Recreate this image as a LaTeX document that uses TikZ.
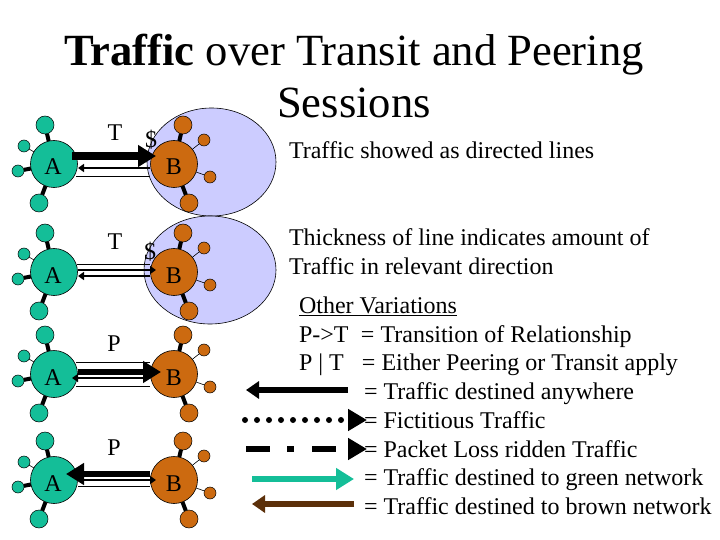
\documentclass[tikz,border=0pt]{standalone}
\usepackage{fontspec}
\setmainfont{Liberation Serif}
\usetikzlibrary{arrows.meta,shapes.geometric}
\definecolor{teal1}{HTML}{14BE98}
\definecolor{tealarrow}{HTML}{14BE98}
\definecolor{brown1}{HTML}{CC6A10}
\definecolor{brownarrow}{HTML}{5C300A}
\definecolor{lilac}{HTML}{CCCCFF}
\tikzset{
  hubA/.style={circle,draw=black,line width=.6pt,fill=teal1,minimum size=47pt,inner sep=0pt,outer sep=0pt},
  hubB/.style={circle,draw=black,line width=.6pt,fill=brown1,minimum size=47pt,inner sep=0pt,outer sep=0pt},
  bigA/.style={circle,draw=black,line width=.5pt,fill=teal1,minimum size=18pt,inner sep=0pt,outer sep=0pt},
  smallA/.style={circle,draw=black,line width=.5pt,fill=teal1,minimum size=12pt,inner sep=0pt,outer sep=0pt},
  bigB/.style={circle,draw=black,line width=.5pt,fill=brown1,minimum size=18pt,inner sep=0pt,outer sep=0pt},
  smallB/.style={circle,draw=black,line width=.5pt,fill=brown1,minimum size=12pt,inner sep=0pt,outer sep=0pt},
  cloud/.style={ellipse,draw=black,line width=.6pt,fill=lilac,inner sep=0pt,outer sep=0pt},
  label/.style={font=\fontsize{24}{24}\selectfont,anchor=base west,inner sep=0pt,outer sep=0pt},
  hublabel/.style={font=\fontsize{24}{24}\selectfont,anchor=base,inner sep=0pt,outer sep=0pt},
  titletext/.style={font=\fontsize{44.6}{52}\selectfont,align=center,anchor=base,inner sep=0pt,outer sep=0pt},
  thick spoke/.style={line width=4pt},
  thin spoke/.style={line width=.6pt},
  wire/.style={line width=1pt},
  fine arrow/.style={line width=2pt,-{Triangle[length=6pt,width=8pt]}},
  heavy arrow/.style={line width=6pt,-{Triangle[length=18pt,width=21pt]}},
  legend arrow/.style={line width=6pt,-{Triangle[length=13pt,width=17pt]}},
  legend head/.style={line width=6pt,-{Triangle[length=19pt,width=21pt]}},
}
\newcommand{\cluster}[2]{%
  \node[bigA] (A#1a) at (45,#2-39) {};
  \node[smallA] (A#1b) at (24,#2-18) {};
  \node[smallA] (A#1c) at (18,#2+7) {};
  \node[bigA] (A#1d) at (39,#2+39) {};
  \node[bigB] (B#1a) at (183,#2-39) {};
  \node[smallB] (B#1b) at (204,#2-24) {};
  \node[smallB] (B#1c) at (210,#2+13) {};
  \node[bigB] (B#1d) at (189,#2+39) {};
  \node[hubA] (A#1) at (54,#2) {};
  \node[hubB] (B#1) at (174,#2) {};
  \draw[thick spoke] (A#1) -- (A#1a);
  \draw[thin spoke] (A#1) -- (A#1b);
  \draw[thick spoke] (A#1) -- (A#1c);
  \draw[thick spoke] (A#1) -- (A#1d);
  \draw[thick spoke] (B#1) -- (B#1a);
  \draw[thin spoke] (B#1) -- (B#1b);
  \draw[thin spoke] (B#1) -- (B#1c);
  \draw[thick spoke] (B#1) -- (B#1d);
}
\newcommand{\linkAB}[5][wire]{\draw[#1] ([shift={(#4,#3)}]A#2.center) -- ([shift={(#5,#3)}]B#2.center);}
\newcommand{\linkBA}[5][wire]{\draw[#1] ([shift={(#5,#3)}]B#2.center) -- ([shift={(#4,#3)}]A#2.center);}
\begin{document}
\begin{tikzpicture}[x=1pt,y=-1pt]
\useasboundingbox (0,0) rectangle (720,540);
\fill[white] (0,0) rectangle (720,540);
\node[cloud,minimum width=129pt,minimum height=108pt] (C1) at (211.5,162) {};
\node[cloud,minimum width=132pt,minimum height=108pt] (C2) at (210,270) {};
\cluster{1}{164}
\cluster{2}{272}
\cluster{3}{374}
\cluster{4}{480}
% row 1
\linkAB[heavy arrow,line width=7.5pt]{1}{-8}{18}{-18}
\linkBA[fine arrow]{1}{4}{24}{-24}
\linkAB{1}{12.5}{22}{-24}
% row 2
\linkAB{2}{-8}{23}{-24}
\linkAB[fine arrow]{2}{-2}{24}{-18}
\linkBA[fine arrow]{2}{4}{24}{-24}
% row 3
\linkAB{3}{-11.5}{22}{-24}
\linkAB{3}{12.5}{22}{-24}
\linkAB[heavy arrow]{3}{-2}{24}{-13}
\linkBA[fine arrow]{3}{4}{18}{-24}
% row 4
\linkBA[heavy arrow]{4}{-6}{12}{-24}
\linkAB[fine arrow]{4}{0}{24}{-18}
\linkAB{4}{6}{24}{-24}
% hub labels
\foreach \n/\y in {1/164,2/272,3/374,4/480}{
  \node[hublabel] (LA\n) at (53,\y+11) {A};
  \node[hublabel] (LB\n) at (174,\y+11) {B};
}
\node[titletext] (title) at (354,118) {\textbf{Traffic} over Transit and Peering\\Sessions};
\node[hublabel] (T1) at (115,141) {T};
\node[hublabel] (D1) at (151,148) {\$};
\node[hublabel] (T2) at (115,249) {T};
\node[hublabel] (D2) at (150,259) {\$};
\node[hublabel] (P1) at (114,351) {P};
\node[hublabel] (P2) at (114,455) {P};
\node[label] (t1) at (289,159) {Traffic showed as directed lines};
\node[label] (t2) at (289,245) {Thickness of line indicates amount of};
\node[label] (t3) at (289,274) {Traffic in relevant direction};
\node[label] (o1) at (299,313) {\underline{Other Variations}};
\node[label] (o2) at (299,342) {\makebox[62pt][l]{P->T}= Transition of Relationship};
\node[label] (o3) at (299,370) {\makebox[63pt][l]{P | T}= Either Peering or Transit apply};
\node[label] (o4) at (364,399) {= Traffic destined anywhere};
\node[label] (o5) at (364,428) {= Fictitious Traffic};
\node[label] (o6) at (364,457) {= Packet Loss ridden Traffic};
\node[label] (o7) at (364,485) {= Traffic destined to green network};
\node[label] (o8) at (364,514) {= Traffic destined to brown network};
% legend arrows
\coordinate (l1a) at (348,390); \coordinate (l1b) at (246,390);
\coordinate (l2a) at (245,420); \coordinate (l2b) at (367,420);
\coordinate (l3a) at (246,449); \coordinate (l3b) at (367,449);
\coordinate (l4a) at (252,479); \coordinate (l4b) at (354,479);
\coordinate (l5a) at (354,504); \coordinate (l5b) at (252,504);
\draw[legend arrow] (l1a) -- (l1b);
\draw[legend head,line cap=round,dash pattern=on 0pt off 12pt] (l2a) -- (l2b);
\draw[legend head,dash pattern=on 24pt off 17pt on 7pt off 18pt on 24pt off 30pt] (l3a) -- (l3b);
\draw[legend arrow,tealarrow,-{Triangle[length=18pt,width=21pt]}] (l4a) -- (l4b);
\draw[legend arrow,brownarrow] (l5a) -- (l5b);
\end{tikzpicture}
\end{document}
